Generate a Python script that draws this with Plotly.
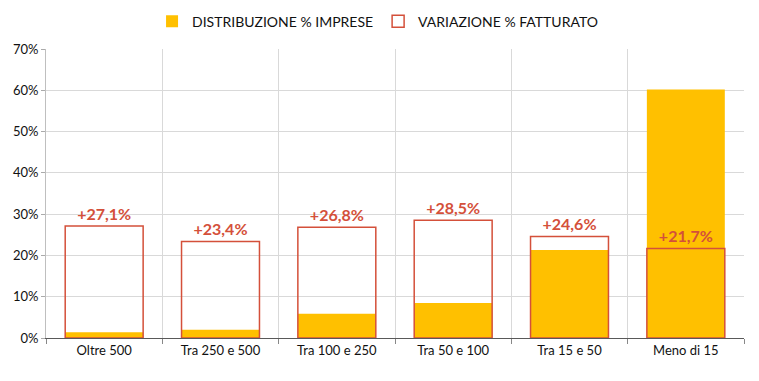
import plotly.graph_objects as go

categories = ["Oltre 500", "Tra 250 e 500", "Tra 100 e 250", "Tra 50 e 100", "Tra 15 e 50", "Meno di 15"]
distribuzione = [0.014, 0.020, 0.059, 0.085, 0.213, 0.602]
variazione = [0.271, 0.234, 0.268, 0.285, 0.246, 0.217]
variazione_labels = ["+27,1%", "+23,4%", "+26,8%", "+28,5%", "+24,6%", "+21,7%"]

RED = "#D4503A"
YEL = "#FFC000"
FONT = "Lato, Open Sans, sans-serif"

fig = go.Figure()
fig.add_trace(go.Bar(
    x=categories, y=distribuzione, name="DISTRIBUZIONE % IMPRESE",
    marker=dict(color=YEL, line=dict(width=0)), width=0.67,
))
fig.add_trace(go.Bar(
    x=categories, y=variazione, name="VARIAZIONE % FATTURATO",
    marker=dict(color="rgba(255,255,255,0)", line=dict(color=RED, width=1.5)), width=0.67,
    text=variazione_labels, textposition="outside",
    textfont=dict(color=RED, size=16, family=FONT, weight="bold"),
    cliponaxis=False,
))

fig.update_layout(
    barmode="overlay",
    width=759, height=381,
    margin=dict(l=46, r=15, t=49, b=43, autoexpand=False),
    paper_bgcolor="white", plot_bgcolor="white",
    font=dict(family=FONT, size=13, color="#111"),
    showlegend=True,
    legend=dict(orientation="h", x=0.475, xanchor="center", y=0.985, yref="container", yanchor="top",
                font=dict(size=14), itemwidth=30, traceorder="normal"),
    xaxis=dict(type="category", tickson="boundaries", showgrid=True, gridcolor="#D9D9D9",
               ticks="outside", ticklen=5, tickcolor="#888", showline=True, linecolor="#595959",
               tickfont=dict(size=13), range=[-0.5, 5.5]),
    yaxis=dict(range=[0, 0.7], dtick=0.1, tickformat=".0%", showgrid=True, gridcolor="#D9D9D9",
               ticks="outside", ticklen=4, tickcolor="#AAA", showline=True, linecolor="#BFBFBF",
               tickfont=dict(size=13), zeroline=False),
    bargap=0.33,
)

fig.write_html("out.html", config={"displayModeBar": False},
               post_script="document.body.style.margin='0';document.body.style.overflow='hidden';")
